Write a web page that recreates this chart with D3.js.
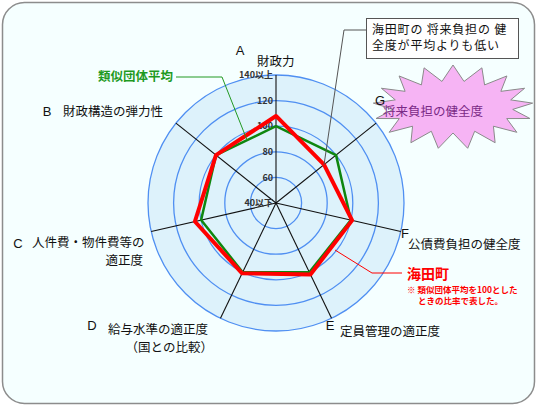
<!DOCTYPE html>
<html>
<head>
<meta charset="utf-8">
<script src="https://cdn.jsdelivr.net/npm/d3@7"></script>
<style>
  body { margin: 0; background: #fff; }
  text { font-family: "Noto Sans CJK JP", sans-serif; }
</style>
</head>
<body>
<svg id="chart" width="540" height="408"></svg>
<script>
// axes, clockwise from the top is A, G, F, E, D, C, B
const axisLetters = ['A', 'B', 'C', 'D', 'E', 'F', 'G'];
const axisNames = [
    ['財政力'],
    ['財政構造の弾力性'],
    ['人件費・物件費等の', '適正度'],
    ['給与水準の適正度', '（国との比較）'],
    ['定員管理の適正度'],
    ['公債費負担の健全度'],
    ['将来負担の健全度']
];
const kaitaValues = [108, 100, 105, 101, 102, 101, 88];   // 海田町
const averageValues = [100, 100, 100, 100, 100, 100, 100]; // 類似団体平均
const ringValues = [60, 80, 100, 120, 140];
const tickValues = [40, 60, 80, 100, 120, 140];
const tickLabels = ['40以下', '60', '80', '100', '120', '140以上'];

const width = 540;
const height = 408;
const cx = 276, cy = 203;
const outerR = 128;

const svg = d3.select('#chart');

// frame
svg.append('rect')
    .attr('x', 2.5).attr('y', 2.5)
    .attr('width', 532).attr('height', 401)
    .attr('rx', 22)
    .attr('fill', '#f5ffff')
    .attr('stroke', '#8c8c8c')
    .attr('stroke-width', 1.5);

const r = d3.scaleLinear().domain([40, 140]).range([0, outerR]);
const angle = i => -i * 2 * Math.PI / axisLetters.length;

const g = svg.append('g').attr('transform', `translate(${cx},${cy})`);

// background disc + rings
g.append('circle').attr('r', outerR).attr('fill', '#ddf2fb');
g.selectAll('.ring')
    .data(ringValues)
    .join('circle')
    .attr('class', 'ring')
    .attr('r', d => r(d))
    .attr('fill', 'none')
    .attr('stroke', '#4f8ff2')
    .attr('stroke-width', 1.3);

// spokes
g.selectAll('.spoke')
    .data(axisLetters)
    .join('line')
    .attr('class', 'spoke')
    .attr('x1', 0).attr('y1', 0)
    .attr('x2', (d, i) => outerR * Math.sin(angle(i)))
    .attr('y2', (d, i) => -outerR * Math.cos(angle(i)))
    .attr('stroke', '#111')
    .attr('stroke-width', 1.1);

// tick labels on the A axis
g.selectAll('.tick')
    .data(tickValues)
    .join('text')
    .attr('class', 'tick')
    .attr('x', -3)
    .attr('y', d => -r(d))
    .attr('dy', '0.35em')
    .attr('text-anchor', 'end')
    .attr('font-size', 9)
    .attr('font-weight', 'bold')
    .attr('fill', '#333')
    .text((d, i) => tickLabels[i]);

const radial = d3.lineRadial()
    .angle((d, i) => angle(i))
    .radius(d => r(d))
    .curve(d3.curveLinearClosed);

g.append('path')
    .attr('d', radial(averageValues))
    .attr('fill', 'none')
    .attr('stroke', '#0f870f')
    .attr('stroke-width', 2.5)
    .attr('stroke-linejoin', 'round');

g.append('path')
    .attr('d', radial(kaitaValues))
    .attr('fill', 'none')
    .attr('stroke', '#ff0000')
    .attr('stroke-width', 4)
    .attr('stroke-linejoin', 'round');

// point on a polygon, used for the leader lines
const pointAt = (values, i) => {
    const rr = r(values[i]);
    return [cx + rr * Math.sin(angle(i)), cy - rr * Math.cos(angle(i))];
};

// starburst behind the G label
const spikes = 17;
const burst = d3.range(spikes * 2).map(k => {
    const a = k * Math.PI / spikes - Math.PI / 2;
    const out = k % 2 === 0;
    const rx = out ? 80 : 60, ry = out ? 42 : 26;
    return [453 + rx * Math.cos(a), 107 + ry * Math.sin(a)];
});
svg.append('path')
    .attr('d', d3.line().curve(d3.curveLinearClosed)(burst))
    .attr('fill', '#f6b4f4')
    .attr('stroke', '#8a8a8a')
    .attr('stroke-width', 1);

// axis label layout: letter position, name position, anchor of the 2nd line
const labelLayout = [
    {lx: 240, ly: 50, nx: 257, ny: 62},
    {lx: 47, ly: 111, nx: 63, ny: 112},
    {lx: 18, ly: 243, nx: 32, ny: 243, x2: 143, a2: 'end'},
    {lx: 92, ly: 325, nx: 108, ny: 330, x2: 213, a2: 'end'},
    {lx: 330, ly: 325, nx: 340, ny: 332},
    {lx: 405, ly: 233, nx: 408, ny: 245},
    {lx: 380, ly: 100, nx: 383, ny: 112, color: '#7a2a86'}
];

const labels = svg.selectAll('.axis-label')
    .data(axisLetters)
    .join('g')
    .attr('class', 'axis-label');

labels.append('text')
    .attr('x', (d, i) => labelLayout[i].lx)
    .attr('y', (d, i) => labelLayout[i].ly)
    .attr('dy', '0.35em')
    .attr('text-anchor', 'middle')
    .style('font-family', '"Liberation Sans", Arial, sans-serif')
    .attr('font-size', 13)
    .attr('fill', '#111')
    .text(d => d);

// names, second lines as tspans of the same text
labels.each(function(d, i) {
    const lay = labelLayout[i];
    const t = d3.select(this).append('text')
        .attr('font-size', 12.5)
        .attr('fill', lay.color || '#111');
    axisNames[i].forEach((line, j) => {
        t.append('tspan')
            .attr('x', j === 0 ? lay.nx : lay.x2)
            .attr('y', lay.ny + j * 18)
            .attr('dy', '0.35em')
            .attr('text-anchor', j === 0 ? 'start' : lay.a2)
            .text(line);
    });
});

// 類似団体平均 legend + leader
const avgPt = [247, 140];
svg.append('polyline')
    .attr('points', [[176, 77], [222, 77], avgPt].join(' '))
    .attr('fill', 'none')
    .attr('stroke', '#229922')
    .attr('stroke-width', 1);
svg.append('text')
    .attr('x', 173).attr('y', 77).attr('dy', '0.35em')
    .attr('text-anchor', 'end')
    .attr('font-size', 12.5)
    .attr('font-weight', 'bold')
    .attr('fill', '#1f9a1f')
    .text('類似団体平均');

// 海田町 legend + leader
svg.append('polyline')
    .attr('points', [[335, 250], [372, 273], [402, 273]].join(' '))
    .attr('fill', 'none')
    .attr('stroke', '#ff0000')
    .attr('stroke-width', 1);
svg.append('text')
    .attr('x', 407).attr('y', 274).attr('dy', '0.35em')
    .attr('font-size', 14)
    .attr('font-weight', 'bold')
    .attr('fill', '#ff0000')
    .text('海田町');
const note = svg.append('text')
    .attr('font-size', 8.5)
    .attr('font-weight', 'bold')
    .attr('fill', '#ff0000');
note.append('tspan')
    .attr('x', 407).attr('y', 290).attr('dy', '0.35em')
    .text('※ 類似団体平均を100とした');
note.append('tspan')
    .attr('x', 418).attr('y', 301).attr('dy', '0.35em')
    .text('ときの比率で表した。');

// callout box
svg.append('polyline')
    .attr('points', [[366, 30], [344, 30], pointAt(kaitaValues, 6)].join(' '))
    .attr('fill', 'none')
    .attr('stroke', '#555')
    .attr('stroke-width', 1);
svg.append('rect')
    .attr('x', 366.5).attr('y', 18.5)
    .attr('width', 152).attr('height', 40)
    .attr('fill', '#fff')
    .attr('stroke', '#555')
    .attr('stroke-width', 1);
const callout = svg.append('text')
    .attr('font-size', 12)
    .attr('letter-spacing', 0.8)
    .attr('fill', '#111');
callout.append('tspan')
    .attr('x', 372).attr('y', 30).attr('dy', '0.35em')
    .text('海田町の 将来負担の 健');
callout.append('tspan')
    .attr('x', 372).attr('y', 46).attr('dy', '0.35em')
    .text('全度が平均よりも低い');
</script>
</body>
</html>
